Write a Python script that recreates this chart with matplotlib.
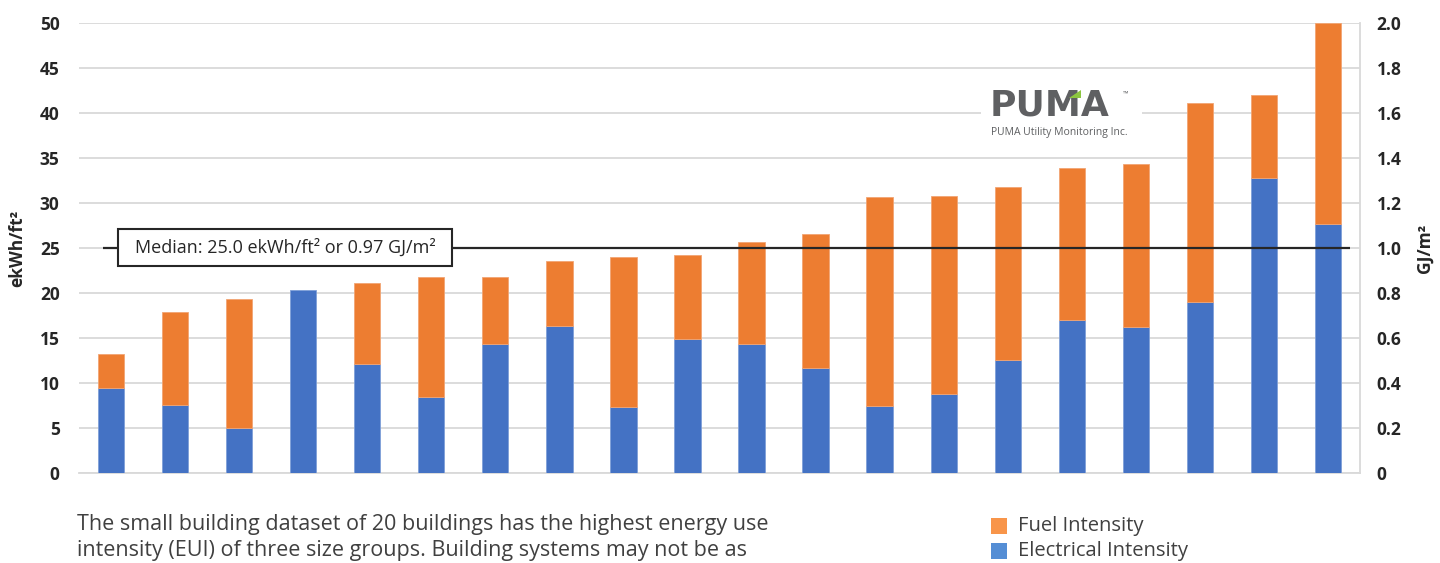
import matplotlib
matplotlib.use("Agg")
import matplotlib.pyplot as plt
from matplotlib.patches import Rectangle, Polygon

# Energy use intensity per building (ekWh/ft²), sorted by total
buildings = list(range(1, 21))
electrical = [9.5, 7.6, 5.0, 20.3, 12.1, 8.5, 14.3, 16.3, 7.3, 14.9,
              14.3, 11.7, 7.4, 8.8, 12.6, 17.0, 16.2, 19.0, 32.8, 27.7]
total = [13.2, 17.9, 19.3, 20.3, 21.1, 21.8, 21.8, 23.6, 24.0, 24.2,
         25.7, 26.6, 30.7, 30.8, 31.8, 33.9, 34.3, 41.1, 42.0, 50.0]
fuel = [round(t - e, 2) for t, e in zip(total, electrical)]

median_ekwh = 25.0
median_gj = 0.97

left_ticks = [0, 5, 10, 15, 20, 25, 30, 35, 40, 45, 50]
right_ticks = [0, 0.2, 0.4, 0.6, 0.8, 1.0, 1.2, 1.4, 1.6, 1.8, 2.0]

BLUE = "#4472C4"
ORANGE = "#ED7D31"
TEXT = "#404040"
DARK = "#262626"
GRID = "#d9d9d9"
LOGO = "#5f6062"

plt.rcParams["font.family"] = ["Open Sans", "DejaVu Sans"]

W, H = 1440, 563
fig = plt.figure(figsize=(W / 100, H / 100), dpi=100)


def fx(px):
    return px / W


def fy(py):
    return 1 - py / H


ax = fig.add_axes([fx(79), fy(473), fx(1360) - fx(79), fy(23) - fy(473)])
x = list(range(len(buildings)))

ax.bar(x, electrical, width=0.41, color=BLUE, edgecolor="#7f9fd8",
       linewidth=0.6, zorder=3, label="Electrical Intensity")
ax.bar(x, fuel, bottom=electrical, width=0.41, color=ORANGE,
       edgecolor="#f2a574", linewidth=[0.6 if f > 0 else 0 for f in fuel],
       zorder=3, label="Fuel Intensity")

ax.set_xlim(-0.5, len(buildings) - 0.5)
ax.set_ylim(0, 50)
ax.set_yticks(left_ticks)
ax.set_yticklabels([str(t) for t in left_ticks], fontsize=12.5,
                   fontweight="bold", color=DARK)
ax.set_xticks([])
ax.tick_params(axis="y", length=0, pad=14)
ax.yaxis.grid(True, color=GRID, linewidth=1.3, zorder=0)
ax.set_axisbelow(True)
for side in ["top", "left"]:
    ax.spines[side].set_visible(False)
ax.spines["bottom"].set_color(GRID)
ax.spines["bottom"].set_linewidth(1.3)
ax.spines["right"].set_color(GRID)
ax.spines["right"].set_linewidth(1.3)
ax.set_ylabel("ekWh/ft²", fontsize=12.5, fontweight="bold", color=DARK,
              labelpad=10)

ax2 = ax.twinx()
ax2.set_ylim(0, 2.0)
ax2.set_yticks(right_ticks)
ax2.set_yticklabels(["0" if t == 0 else f"{t:.1f}" for t in right_ticks],
                    fontsize=12.5, fontweight="bold", color=DARK)
ax2.tick_params(axis="y", length=0, pad=12)
for side in ["top", "left", "bottom", "right"]:
    ax2.spines[side].set_visible(False)
ax2.set_ylabel("GJ/m²", fontsize=12.5, fontweight="bold", color=DARK,
               labelpad=10)

# Median reference line with its label box
ax.hlines(median_ekwh, -0.12, 19.35, color=DARK, linewidth=1.6, zorder=4)
ax.add_patch(Rectangle((0.11, 23.0), 5.21, 4.1, facecolor="white",
                       edgecolor=DARK, linewidth=1.5, zorder=5))
ax.text(2.715, 25.05,
        f"Median: {median_ekwh:.1f} ekWh/ft² or {median_gj:.2f} GJ/m²",
        ha="center", va="center", fontsize=13, color=DARK, zorder=6)

# Company logo
fig.patches.append(Rectangle((fx(981), fy(142)), fx(1142) - fx(981),
                             fy(80) - fy(142), transform=fig.transFigure,
                             facecolor="white", edgecolor="none", zorder=5))
logo_kw = dict(fontsize=26, fontweight="bold", family=["DejaVu Sans"],
               ha="left", va="baseline", zorder=6)
logo = fig.text(fx(990), fy(116), "PUMA", color=LOGO, **logo_kw)
# locate the right edge of the "M" to put the green accent on its peak
probe = fig.text(fx(990), fy(116), "PUM", alpha=0, **logo_kw)
fig.canvas.draw()
m_right = probe.get_window_extent().x1
probe.remove()
m_top = logo.get_window_extent().y1
tri = [(m_right - 13, m_top - 9), (m_right - 1, m_top - 9), (m_right - 1, m_top - 1)]
fig.patches.append(Polygon([(px / W, py / H) for px, py in tri], closed=True,
                           transform=fig.transFigure, facecolor="#8cc63f",
                           edgecolor="none", zorder=7))
fig.text(fx(1123), fy(96), "™", fontsize=5, color=LOGO, zorder=6)
fig.text(fx(991), fy(135), "PUMA Utility Monitoring Inc.", fontsize=7.5,
         color=LOGO, ha="left", va="baseline", zorder=6)

# Caption text
fig.text(fx(77), fy(530),
         "The small building dataset of 20 buildings has the highest energy use",
         fontsize=15.5, color=TEXT, ha="left", va="baseline")
fig.text(fx(77), fy(556),
         "intensity (EUI) of three size groups. Building systems may not be as",
         fontsize=15.5, color=TEXT, ha="left", va="baseline")

# Legend
legend_items = [("Fuel Intensity", "#F8954A", 518),
                ("Electrical Intensity", "#558ED5", 543)]
for label, color, top in legend_items:
    fig.patches.append(Rectangle((fx(991), fy(top + 16)), fx(16), 16 / H,
                                 transform=fig.transFigure, facecolor=color,
                                 edgecolor="none"))
    fig.text(fx(1018), fy(top + 13), label, fontsize=14.5, color=TEXT,
             ha="left", va="baseline")

fig.savefig("out.png", dpi=100)
